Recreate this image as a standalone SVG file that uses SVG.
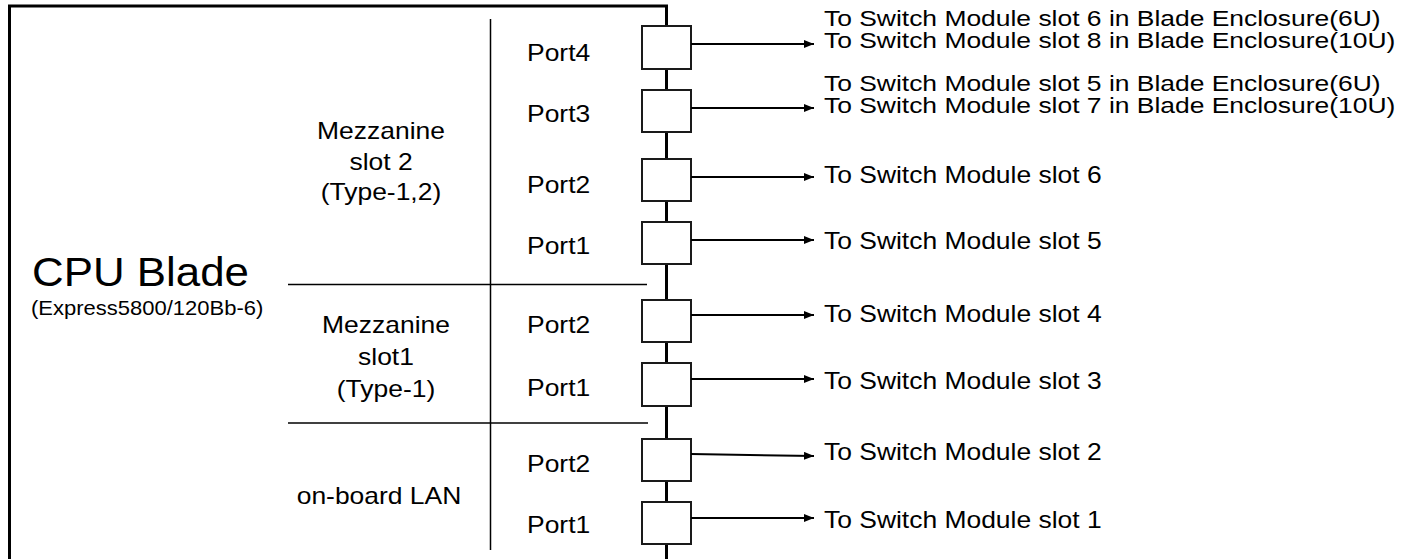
<svg xmlns="http://www.w3.org/2000/svg" width="1417" height="559" viewBox="0 0 1417 559">
<style>
text{font-family:"Liberation Sans",Arial,sans-serif;fill:#000;font-size:23px}
.two{font-size:21.5px}
.mid{text-anchor:middle}
.frame{fill:none;stroke:#000;stroke-width:3}
.div{fill:none;stroke:#000;stroke-width:1.5}
.port{fill:#fff;stroke:#1a1a1a;stroke-width:2}
.arrow{fill:none;stroke:#000;stroke-width:2;marker-end:url(#ah)}
</style>
<defs>
<marker id="ah" markerUnits="userSpaceOnUse" markerWidth="12" markerHeight="10" refX="10" refY="4" orient="auto">
<path d="M0,0 L10,4 L0,8 z" fill="#000"/>
</marker>
</defs>
<g id="cpu-blade">
<path class="frame" d="M9.5,560 V6 H666.5 V560"/>
<text transform="translate(32,286) scale(1.07,1)" style="font-size:41px">CPU Blade</text>
<text transform="translate(31,315) scale(1.1,1)" style="font-size:20px">(Express5800/120Bb-6)</text>
<line class="div" x1="490.5" y1="19" x2="490.5" y2="550"/>
<line class="div" x1="288" y1="284.5" x2="647" y2="284.5"/>
<line class="div" x1="288" y1="423" x2="648" y2="423"/>
</g>
<g id="mezzanine-slot2">
<text class="mid" transform="translate(381,139) scale(1.15,1)">Mezzanine</text>
<text class="mid" transform="translate(381,170) scale(1.15,1)">slot 2</text>
<text class="mid" transform="translate(381,200) scale(1.15,1)">(Type-1,2)</text>
</g>
<g id="mezzanine-slot1">
<text class="mid" transform="translate(386,333) scale(1.15,1)">Mezzanine</text>
<text class="mid" transform="translate(386,365) scale(1.15,1)">slot1</text>
<text class="mid" transform="translate(386,397) scale(1.15,1)">(Type-1)</text>
</g>
<g id="onboard-lan">
<text class="mid" transform="translate(379,504) scale(1.15,1)">on-board LAN</text>
</g>
<g id="m2-port4"><rect class="port" x="642" y="26" width="49" height="43"/><text transform="translate(527,61) scale(1.15,1)">Port4</text></g>
<g id="m2-port3"><rect class="port" x="642" y="90" width="49" height="42"/><text transform="translate(527,122) scale(1.15,1)">Port3</text></g>
<g id="m2-port2"><rect class="port" x="642" y="159" width="49" height="42"/><text transform="translate(527,192.5) scale(1.15,1)">Port2</text></g>
<g id="m2-port1"><rect class="port" x="642" y="222" width="49" height="42"/><text transform="translate(527,254) scale(1.15,1)">Port1</text></g>
<g id="m1-port2"><rect class="port" x="642" y="300" width="49" height="42"/><text transform="translate(527,333) scale(1.15,1)">Port2</text></g>
<g id="m1-port1"><rect class="port" x="642" y="363" width="49" height="43"/><text transform="translate(527,396) scale(1.15,1)">Port1</text></g>
<g id="lan-port2"><rect class="port" x="642" y="439" width="49" height="42"/><text transform="translate(527,471.5) scale(1.15,1)">Port2</text></g>
<g id="lan-port1"><rect class="port" x="642" y="502" width="49" height="42"/><text transform="translate(527,533) scale(1.15,1)">Port1</text></g>
<g id="connectors">
<line class="arrow" x1="691" y1="44" x2="814" y2="44"/>
<line class="arrow" x1="691" y1="108" x2="814" y2="108"/>
<line class="arrow" x1="691" y1="177" x2="814" y2="177"/>
<line class="arrow" x1="691" y1="240" x2="814" y2="240"/>
<line class="arrow" x1="691" y1="315" x2="814" y2="315"/>
<line class="arrow" x1="691" y1="379" x2="814" y2="379"/>
<line class="arrow" x1="691" y1="454" x2="814" y2="456"/>
<line class="arrow" x1="691" y1="518" x2="814" y2="518"/>
</g>
<g id="targets">
<text class="two" transform="translate(824,26) scale(1.23,1)">To Switch Module slot 6 in Blade Enclosure(6U)</text>
<text class="two" transform="translate(824,48) scale(1.23,1)">To Switch Module slot 8 in Blade Enclosure(10U)</text>
<text class="two" transform="translate(824,91) scale(1.23,1)">To Switch Module slot 5 in Blade Enclosure(6U)</text>
<text class="two" transform="translate(824,113) scale(1.23,1)">To Switch Module slot 7 in Blade Enclosure(10U)</text>
<text transform="translate(824,182.5) scale(1.15,1)">To Switch Module slot 6</text>
<text transform="translate(824,248.5) scale(1.15,1)">To Switch Module slot 5</text>
<text transform="translate(824,321.5) scale(1.15,1)">To Switch Module slot 4</text>
<text transform="translate(824,388.5) scale(1.15,1)">To Switch Module slot 3</text>
<text transform="translate(824,459.5) scale(1.15,1)">To Switch Module slot 2</text>
<text transform="translate(824,528) scale(1.15,1)">To Switch Module slot 1</text>
</g>
</svg>
